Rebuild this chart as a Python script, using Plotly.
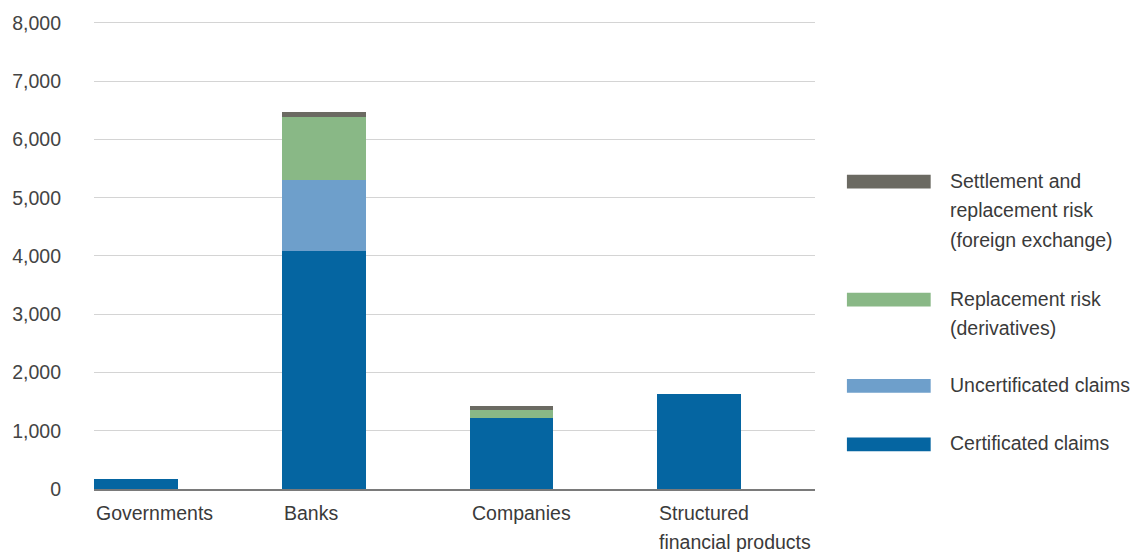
import plotly.graph_objects as go

# Exposure by counterparty type, stacked by risk category
categories = ["Governments", "Banks", "Companies", "Structured financial products"]
category_label_lines = [["Governments"], ["Banks"], ["Companies"], ["Structured", "financial products"]]

certificated = [180, 4090, 1220, 1630]
uncertificated = [0, 1220, 0, 0]
replacement_derivatives = [0, 1070, 140, 0]
settlement_fx = [0, 90, 70, 0]

y_ticks = [0, 1000, 2000, 3000, 4000, 5000, 6000, 7000, 8000]
y_tick_labels = ["0", "1,000", "2,000", "3,000", "4,000", "5,000", "6,000", "7,000", "8,000"]

series = [
    ("Certificated claims", certificated, "#0565a1", ["Certificated claims"]),
    ("Uncertificated claims", uncertificated, "#6e9fcb", ["Uncertificated claims"]),
    ("Replacement risk (derivatives)", replacement_derivatives, "#89b886",
     ["Replacement risk", "(derivatives)"]),
    ("Settlement and replacement risk (foreign exchange)", settlement_fx, "#6b6a62",
     ["Settlement and", "replacement risk", "(foreign exchange)"]),
]

FONT = "Liberation Sans, Arial, sans-serif"
TEXT = "#3a3a3a"
FS = 19.5

x_pos = list(range(len(categories)))
bar_w = 0.446
x_left = -bar_w / 2

fig = go.Figure()
for name, vals, color, _ in series:
    fig.add_trace(go.Bar(
        x=x_pos, y=vals, name=name, width=bar_w,
        marker=dict(color=color, line=dict(width=0)),
        hoverinfo="skip", showlegend=False,
    ))

# category labels, left-aligned under each bar
ann = []
for i, lines in enumerate(category_label_lines):
    for k, line in enumerate(lines):
        ann.append(dict(
            x=x_pos[i] + x_left, xref="x", xanchor="left", xshift=0,
            y=0, yref="y", yanchor="middle", yshift=-24 - 29 * k,
            text=line, showarrow=False,
            font=dict(family=FONT, size=FS, color=TEXT),
        ))

# plot area; a little headroom above 8,000 so the top gridline shows
plot_top, plot_bottom, plot_left, plot_right = 15, 489, 92, 815
px_per_unit = (489 - 19) / 8000
y_max = (plot_bottom - plot_top) / px_per_unit
pw = plot_right - plot_left
ph = plot_bottom - plot_top

def px_x(x):
    return (x - plot_left) / pw

def px_y(y):
    return (plot_bottom - y) / ph

# hand-built legend on the right (top-down order: reversed stack)
legend_rows = [179, 298, 385, 444]
shapes = []
for row_y, (name, vals, color, lines) in zip(legend_rows, reversed(series)):
    shapes.append(dict(
        type="rect", xref="paper", yref="paper",
        x0=px_x(847), x1=px_x(931), y0=px_y(row_y + 7), y1=px_y(row_y - 7),
        fillcolor=color, line=dict(width=0),
    ))
    for k, line in enumerate(lines):
        ann.append(dict(
            x=px_x(948), xref="paper", xanchor="left",
            y=px_y(row_y - 1 + 30 * k), yref="paper", yanchor="middle",
            text=line, showarrow=False,
            font=dict(family=FONT, size=FS, color=TEXT),
        ))

fig.update_layout(
    barmode="stack",
    width=1139, height=552,
    margin=dict(l=plot_left, r=1139 - plot_right, t=plot_top, b=552 - plot_bottom),
    paper_bgcolor="white", plot_bgcolor="white",
    font=dict(family=FONT, size=FS, color=TEXT),
    annotations=ann, shapes=shapes,
    bargap=0,
)
fig.update_xaxes(
    range=[x_left, x_left + pw / 188.3],
    showticklabels=False, showgrid=False, zeroline=False,
    showline=True, linecolor="#7a7a7a", linewidth=2,
)
fig.update_yaxes(
    range=[0, y_max], tickvals=y_ticks, ticktext=y_tick_labels,
    showgrid=True, gridcolor="#d4d4d4", gridwidth=1, zeroline=False,
    ticks="", ticklabelstandoff=32,
    tickfont=dict(family=FONT, size=FS, color="#444444"),
)

fig.write_html("out.html")
